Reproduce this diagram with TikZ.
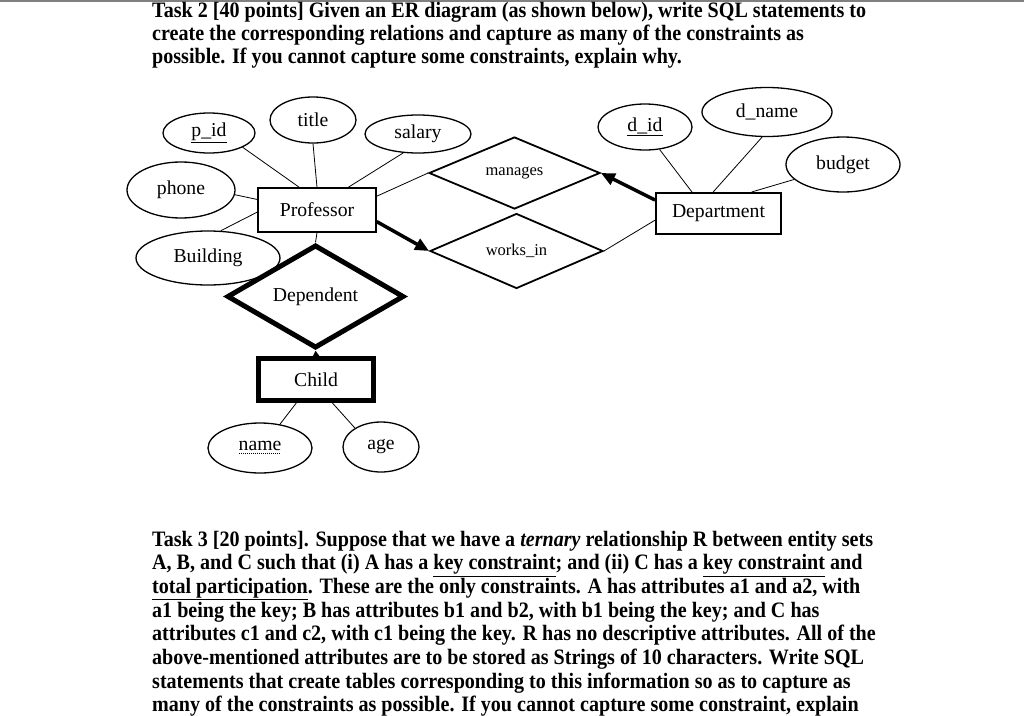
\documentclass[tikz,border=0pt]{standalone}
\usepackage{fontspec}
\setmainfont{Liberation Serif}
\usetikzlibrary{shapes.geometric,arrows.meta}
\newsavebox\dulbox
\newcommand\dotul[1]{\sbox\dulbox{#1}\leavevmode\rlap{\raisebox{-3.5pt}{\hbox to \wd\dulbox{\leaders\hbox to 2pt{\hss\rule{1pt}{0.9pt}\hss}\hfill}}}\usebox\dulbox}
\newsavebox\hdrbox
\newlength\hdrwd
\begin{document}
\sbox\hdrbox{\fontsize{22}{24}\selectfont\bfseries Task 2 [40 points] Given an ER diagram (as shown below), write SQL statements to}%
\setlength\hdrwd{\wd\hdrbox}%
\pgfmathsetmacro\hsc{714/\hdrwd}%
\edef\makehdr{\noexpand\newfontfamily\noexpand\hdrfam[FakeStretch=\hsc]{Liberation Serif}}\makehdr
\newcommand\hdrfont{\hdrfam\fontsize{22}{24}\selectfont\bfseries}%
\begin{tikzpicture}[x=1pt,y=-1pt,
  lbl/.style={font=\fontsize{19.7}{22}\selectfont},
  attr/.style={ellipse, draw, line width=1.3pt, inner sep=0pt, lbl},
  entity/.style={rectangle, draw, line width=1.4pt, inner sep=0pt, lbl},
  rel/.style={diamond, draw, line width=1.8pt, inner sep=0pt, font=\fontsize{16.5}{18}\selectfont},
  conn/.style={line width=0.8pt},
  thickarrow/.style={line width=3.5pt, -{Triangle[length=14pt,width=12pt]}},
  txt/.style={anchor=base west, inner sep=0pt, font=\hdrfont}]
\useasboundingbox (0,0) rectangle (1024,715);
\draw[gray, line width=2pt] (0,0.5) -- (1024,0.5);
% Task 2 text
\node[txt] (t2a) at (152,17) {Task 2 [40 points] Given an ER diagram (as shown below), write SQL statements to};
\node[txt] (t2b) at (152,40) {create the corresponding relations and capture as many of the constraints as};
\node[txt] (t2c) at (152,63) {possible. If you cannot capture some constraints, explain why.};
% entities
\node[entity, minimum width=118pt, minimum height=44pt] (prof) at (317,210) {Professor};
\node[entity, line width=2pt, minimum width=125pt, minimum height=41pt] (dept) at (718.5,213.5) {Department};
\node[entity, line width=5pt, minimum width=115pt, minimum height=42pt] (child) at (316,379.5) {Child};
% relationships
\node[rel, minimum width=171pt, minimum height=72pt] (man) at (514.5,173) {manages};
\node[rel, minimum width=173pt, minimum height=62pt] (works) at (516.5,251) {works\_in};
\node[diamond, draw, line width=5pt, inner sep=0pt, lbl, minimum width=177pt, minimum height=70pt] (dep) at (315.5,296.5) {Dependent};
% attributes
\node[attr, minimum width=92pt, minimum height=40pt] (pid) at (209,133) {\underline{p\_id}};
\node[attr, minimum width=86pt, minimum height=46pt] (title) at (313,120) {title};
\node[attr, minimum width=106pt, minimum height=38pt] (sal) at (418,134) {salary};
\node[attr, minimum width=108pt, minimum height=56pt] (phone) at (181,190) {phone};
\node[attr, minimum width=144pt, minimum height=54pt] (bld) at (208,258) {Building};
\node[attr, minimum width=94pt, minimum height=46pt] (did) at (645,127) {\underline{d\_id}};
\node[attr, minimum width=130pt, minimum height=49pt] (dname) at (767,112) {d\_name};
\node[attr, minimum width=114pt, minimum height=55pt] (budget) at (843,164.5) {budget};
\node[attr, minimum width=104pt, minimum height=50pt] (name) at (260,448) {\dotul{name}};
\node[attr, minimum width=76pt, minimum height=50pt] (age) at (381,447) {age};
% connectors
\draw[conn] (pid.337) -- (prof.128);
\draw[conn] (title.south) -- (prof.north);
\draw[conn] (sal.232) -- (prof.36);
\draw[conn] (phone.-5) -- (prof.170);
\draw[conn] (bld.65) -- (prof.182);
\draw[conn] (prof.13) -- (man.west);
\draw[thickarrow] (prof.-11) -- (works.west);
\draw[conn] (prof.south) -- (dep.north);
\draw[line width=3.5pt, -{Triangle[length=9pt,width=10pt]}] (child.north) -- (dep.south);
\draw[conn] (child.230) -- (name.50);
\draw[conn] (child.-55) -- (age.144);
\draw[thickarrow] (dept.168) -- (man.east);
\draw[conn] (dept.186) -- (works.east);
\draw[conn] (did.-57) -- (dept.141);
\draw[conn] (dname.259) -- (dept.104);
\draw[conn] (budget.197) -- (dept.33);
% Task 3 text
\node[txt] (t3a) at (152,546) {Task 3 [20 points]. Suppose that we have a \textit{ternary} relationship R between entity sets};
\node[txt] (t3b) at (152,569.7) {A, B, and C such that (i) A has a \underline{key constraint}; and (ii) C has a \underline{key constraint} and};
\node[txt] (t3c) at (152,593.4) {\underline{total participation}. These are the only constraints. A has attributes a1 and a2, with};
\node[txt] (t3d) at (152,617.1) {a1 being the key; B has attributes b1 and b2, with b1 being the key; and C has};
\node[txt] (t3e) at (152,640.8) {attributes c1 and c2, with c1 being the key. R has no descriptive attributes. All of the};
\node[txt] (t3f) at (152,664.5) {above-mentioned attributes are to be stored as Strings of 10 characters. Write SQL};
\node[txt] (t3g) at (152,688.2) {statements that create tables corresponding to this information so as to capture as};
\node[txt] (t3h) at (152,711.9) {many of the constraints as possible. If you cannot capture some constraint, explain};
\end{tikzpicture}
\end{document}
